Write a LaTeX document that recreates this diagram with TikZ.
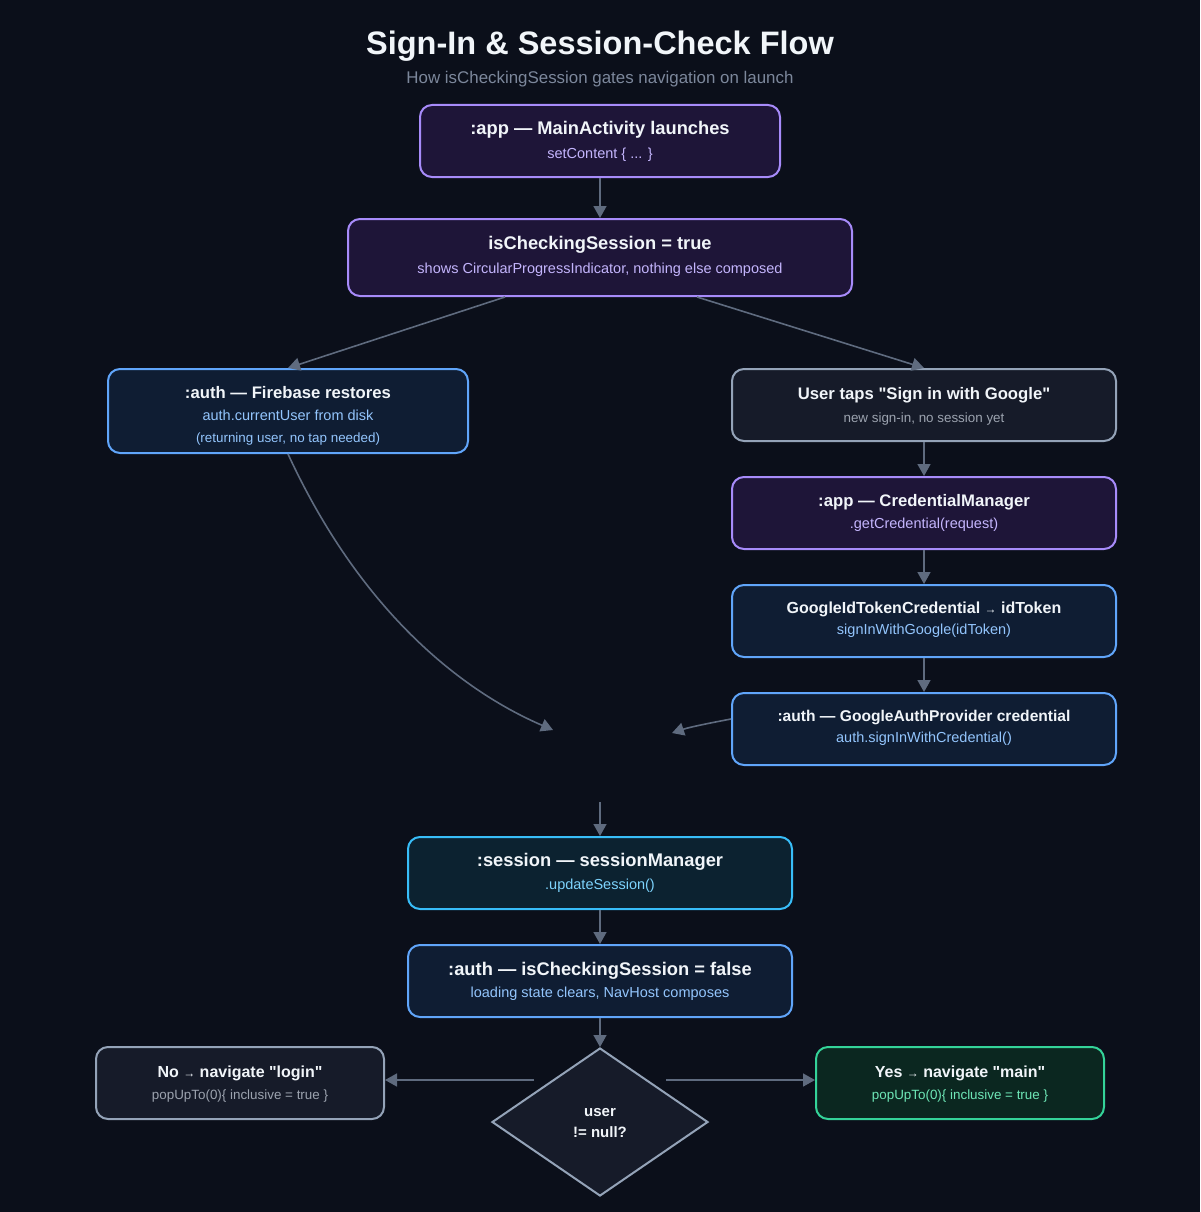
\documentclass[tikz,border=0pt]{standalone}
\usepackage{fontspec}
\setmainfont{Liberation Sans}[Ligatures=TeXOff]
\usetikzlibrary{arrows.meta,shapes.geometric}
\definecolor{bg}{HTML}{0B0F1A}
\definecolor{pF}{HTML}{1E1538}
\definecolor{pB}{HTML}{A78BFA}
\definecolor{pT}{HTML}{C4B5FD}
\definecolor{bF}{HTML}{0F1D33}
\definecolor{bB}{HTML}{60A5FA}
\definecolor{bT}{HTML}{93C5FD}
\definecolor{gF}{HTML}{161B29}
\definecolor{gB}{HTML}{94A3B8}
\definecolor{gT}{HTML}{9CA3AF}
\definecolor{cF}{HTML}{0C2230}
\definecolor{cB}{HTML}{38BDF8}
\definecolor{cT}{HTML}{7DD3FC}
\definecolor{eF}{HTML}{0B2720}
\definecolor{eB}{HTML}{34D399}
\definecolor{eT}{HTML}{6EE7B7}
\definecolor{arr}{HTML}{5F6B7F}
\definecolor{ttlc}{HTML}{F1F5F9}
\definecolor{subc}{HTML}{7C879B}
\newcommand{\smarr}{{\fontsize{12}{12}\selectfont →}}
\begin{document}
\begin{tikzpicture}[x=1pt,y=-1pt,
  box/.style={draw, rounded corners=12pt, line width=2pt, inner sep=0pt},
  pbox/.style={box, draw=pB, fill=pF},
  bbox/.style={box, draw=bB, fill=bF},
  gbox/.style={box, draw=gB, fill=gF},
  cbox/.style={box, draw=cB, fill=cF},
  ebox/.style={box, draw=eB, fill=eF},
  ttl/.style={text=ttlc, font=\bfseries\fontsize{18.3}{20}\selectfont, anchor=base, inner sep=0pt},
  ttlm/.style={text=ttlc, font=\bfseries\fontsize{16.7}{20}\selectfont, anchor=base, inner sep=0pt},
  ttls/.style={text=ttlc, font=\bfseries\fontsize{16}{20}\selectfont, anchor=base, inner sep=0pt},
  sub/.style={font=\fontsize{14.5}{16}\selectfont, anchor=base, inner sep=0pt},
  subs/.style={font=\fontsize{13.4}{15}\selectfont, anchor=base, inner sep=0pt},
  conn/.style={draw=arr, line width=1.6pt, -{Triangle[length=12pt,width=13pt]}}
]
\fill[bg] (0,0) rectangle (1200,1212);
\useasboundingbox (0,0) rectangle (1200,1212);

% title
\node[text=ttlc, font=\bfseries\fontsize{32.5}{36}\selectfont, anchor=base, inner sep=0pt] (title) at (600,55) {Sign-In \& Session-Check Flow};
\node[text=subc, font=\fontsize{16.9}{18}\selectfont, anchor=base, inner sep=0pt] (subtitle) at (600,84) {How isCheckingSession gates navigation on launch};

% boxes
\node[pbox, minimum width=360pt, minimum height=72pt] (n1) at (600,141) {};
\node[ttl] at ([yshift=6pt]n1.center) {:app — MainActivity launches};
\node[sub, text=pT] at ([yshift=-17pt]n1.center) {setContent \{ ... \}};

\node[pbox, minimum width=504pt, minimum height=77pt] (n2) at (600,257.5) {};
\node[ttl] at ([yshift=8pt]n2.center) {isCheckingSession = true};
\node[sub, text=pT] at ([yshift=-15.5pt]n2.center) {shows CircularProgressIndicator, nothing else composed};

\node[bbox, minimum width=360pt, minimum height=84pt] (n3) at (288,411) {};
\node[ttlm] at ([yshift=13pt]n3.center) {:auth — Firebase restores};
\node[sub, text=bT] at ([yshift=-9pt]n3.center) {auth.currentUser from disk};
\node[subs, text=bT] at ([yshift=-31pt]n3.center) {(returning user, no tap needed)};

\node[gbox, minimum width=384pt, minimum height=72pt] (n4) at (924,405) {};
\node[ttlm] at ([yshift=6pt]n4.center) {User taps "Sign in with Google"};
\node[subs, text=gT] at ([yshift=-17pt]n4.center) {new sign-in, no session yet};

\node[pbox, minimum width=384pt, minimum height=72pt] (n5) at (924,513) {};
\node[ttlm] at ([yshift=7pt]n5.center) {:app — CredentialManager};
\node[sub, text=pT] at ([yshift=-15pt]n5.center) {.getCredential(request)};

\node[bbox, minimum width=384pt, minimum height=72pt] (n6) at (924,621) {};
\node[ttls] at ([yshift=8pt]n6.center) {GoogleIdTokenCredential \smarr{} idToken};
\node[sub, text=bT] at ([yshift=-13pt]n6.center) {signInWithGoogle(idToken)};

\node[bbox, minimum width=384pt, minimum height=72pt] (n7) at (924,729) {};
\node[ttls, font=\bfseries\fontsize{15.6}{20}\selectfont] at ([yshift=8pt]n7.center) {:auth — GoogleAuthProvider credential};
\node[sub, text=bT] at ([yshift=-13pt]n7.center) {auth.signInWithCredential()};

\node[cbox, minimum width=384pt, minimum height=72pt] (n8) at (600,873) {};
\node[ttl] at ([yshift=7pt]n8.center) {:session — sessionManager};
\node[sub, text=cT] at ([yshift=-16pt]n8.center) {.updateSession()};

\node[bbox, minimum width=384pt, minimum height=72pt] (n9) at (600,981) {};
\node[ttl] at ([yshift=6pt]n9.center) {:auth — isCheckingSession = false};
\node[sub, text=bT] at ([yshift=-16pt]n9.center) {loading state clears, NavHost composes};

\node[gbox, minimum width=288pt, minimum height=72pt] (n10) at (240,1083) {};
\node[ttls] at ([yshift=6pt]n10.center) {No \smarr{} navigate "login"};
\node[subs, text=gT] at ([yshift=-16pt]n10.center) {popUpTo(0)\{ inclusive = true \}};

\node[ebox, minimum width=288pt, minimum height=72pt] (n11) at (960,1083) {};
\node[ttls] at ([yshift=6pt]n11.center) {Yes \smarr{} navigate "main"};
\node[subs, text=eT] at ([yshift=-16pt]n11.center) {popUpTo(0)\{ inclusive = true \}};

\node[diamond, draw=gB, fill=gF, line width=2pt, inner sep=0pt, minimum width=216pt, minimum height=148pt] (d) at (600,1122) {};
\node[ttls, font=\bfseries\fontsize{15}{18}\selectfont] at ([yshift=6pt]d.center) {user};
\node[ttls, font=\bfseries\fontsize{15}{18}\selectfont] at ([yshift=-15pt]d.center) {!= null?};

% merge coordinates
\coordinate (mL) at (553,730);
\coordinate (mR) at (672,733);
\coordinate (mB) at (600,802);
\coordinate (dL) at ([xshift=-66pt,yshift=42pt]d.center);
\coordinate (dR) at ([xshift=66pt,yshift=42pt]d.center);

% connectors
\draw[conn] (n1.south) -- (n2.north);
\draw[conn] ([xshift=-95pt]n2.south) -- (n3.north);
\draw[conn] ([xshift=97pt]n2.south) -- (n4.north);
\draw[conn] (n4.south) -- (n5.north);
\draw[conn] (n5.south) -- (n6.north);
\draw[conn] (n6.south) -- (n7.north);
\draw[conn] (n3.south) .. controls (360,610) and (460,690) .. (mL);
\draw[conn] ([yshift=10pt]n7.west) .. controls (710,723) and (690,727) .. (mR);
\draw[conn] (mB) -- (n8.north);
\draw[conn] (n8.south) -- (n9.north);
\draw[conn] (n9.south) -- (d.north);
\draw[conn] (dL) -- (dL -| n10.east);
\draw[conn] (dR) -- (dR -| n11.west);
\end{tikzpicture}
\end{document}
